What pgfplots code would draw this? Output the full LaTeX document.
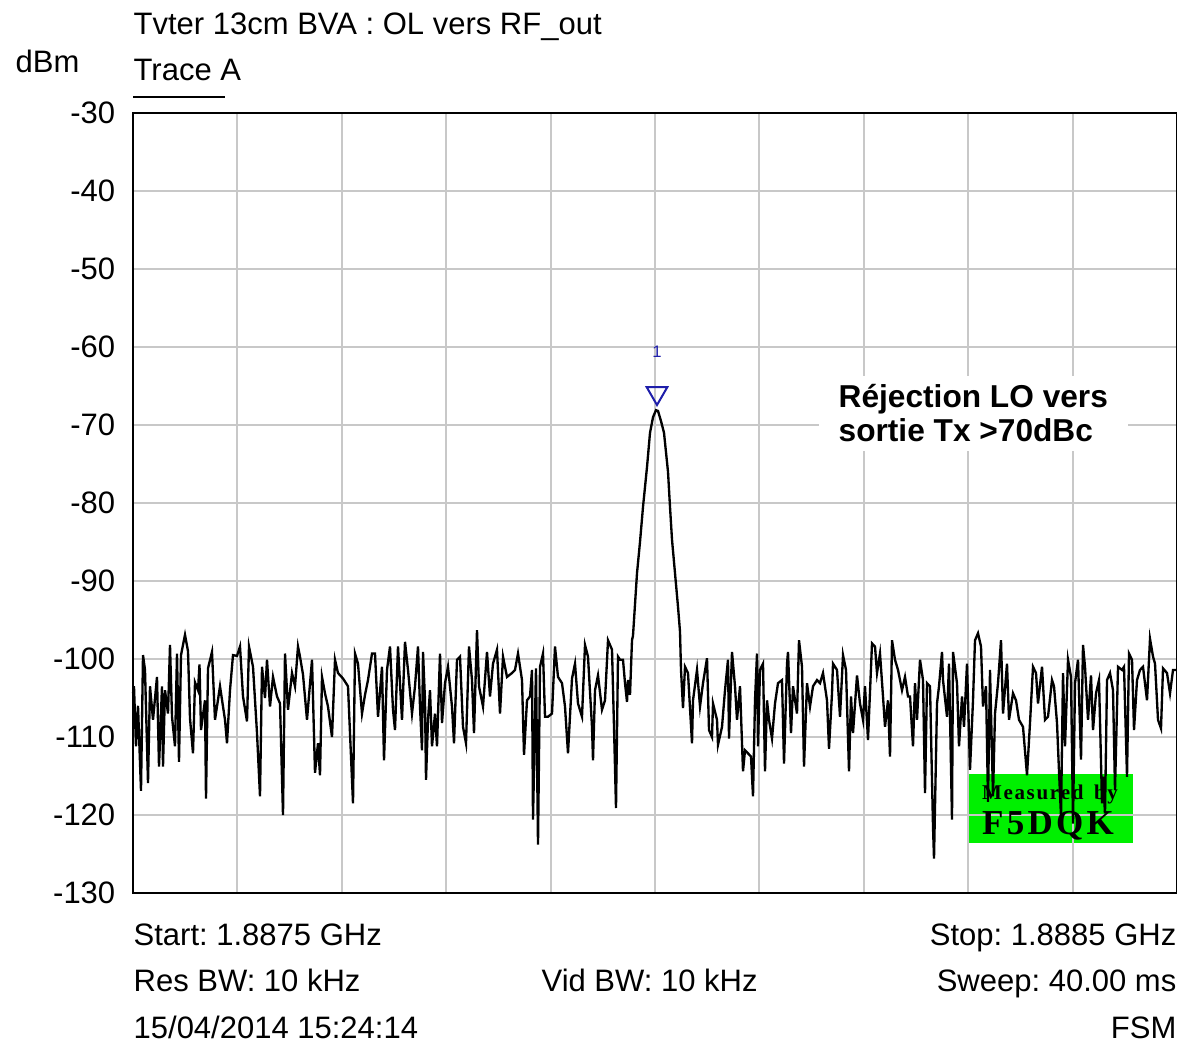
\documentclass[border=0pt]{standalone}
\usepackage{fontspec}
\setmainfont{Liberation Sans}
\newfontfamily\serifb{Liberation Serif}
\usepackage{pgfplots}
\pgfplotsset{compat=1.18}
\frenchspacing
\definecolor{gridc}{RGB}{200,200,200}
\definecolor{mk}{RGB}{30,30,170}
\definecolor{lime}{RGB}{0,240,0}
\newcommand{\f}{\fontsize{9.3}{11}\selectfont}
\begin{document}
\begin{tikzpicture}
\begin{axis}[name=ax, set layers, width=313.2pt, height=234pt, scale only axis,
  xmin=133, xmax=1177, ymin=-130, ymax=-30,
  xtick={133,237.4,341.8,446.2,550.6,655,759.4,863.8,968.2,1072.6,1177}, xticklabels={},
  ytick={-130,-120,...,-30}, major tick length=0pt,
  grid=major, major grid style={gridc, line width=0.6pt},
  axis line style={black, line width=0.6pt},
  tick label style={font=\f}, yticklabel style={xshift=-1.8pt},
  /pgf/number format/assume math mode=true, clip=false]
\begin{pgfonlayer}{axis background}
\fill[lime] (axis cs:968,-114.7) rectangle (axis cs:1133,-123.6);
\end{pgfonlayer}
\node[font=\serifb\bfseries\fontsize{6.3}{7}\selectfont, inner sep=0] at (axis cs:1050,-117.4) {M\kern0.5pt e\kern0.5pt a\kern0.5pt s\kern0.5pt u\kern0.5pt r\kern0.5pt e\kern0.5pt d\ \ b\kern0.5pt y};
\node[font=\serifb\bfseries\fontsize{10.5}{12}\selectfont, inner sep=0] at (axis cs:1048,-121.4) {F\kern1pt 5\kern1pt D\kern1pt Q\kern1pt K};
\addplot[black, line width=0.7pt, mark=none] coordinates {
(133,-104.4) (134,-103.5) (136,-111.2) (138,-106) (141,-116.9) (143,-99.5) (145,-101.4) (148,-115.9)
(150,-103.5) (153,-107.8) (157,-102.3) (159,-113.8) (162,-103.5) (163,-113.8) (165,-104) (168,-107)
(170,-98.2) (172,-107.4) (175,-111.2) (177,-99.3) (179,-113.2) (181,-99.5) (185,-96.9) (188,-99)
(190,-107.6) (193,-112.1) (195,-103) (198,-104) (199.5,-100.7) (201,-109.1) (205,-105.3) (206,-117.9)
(208,-101.2) (212,-99.1) (215,-107.8) (220,-103.5) (225,-107.8) (227,-110.8) (230,-104) (233,-99.5)
(237,-99.6) (240,-98.4) (243,-104.8) (247,-108) (249,-98.4) (253,-101) (257,-109.5) (260,-117.6)
(262,-101) (265,-105) (267,-100.1) (270,-106.1) (273,-102.3) (277,-104.8) (280,-105.7) (283,-120)
(285,-99.3) (288,-106.5) (292,-101.8) (295,-103.5) (298,-98.4) (300,-99.7) (303,-102) (307,-107.8)
(312,-100.1) (315,-114.6) (318,-110.8) (320,-114.9) (322,-102.3) (325,-104.4) (328,-106.1) (332,-110)
(335,-100.1) (338,-101.8) (343,-102.5) (348,-103.5) (351,-112.5) (353,-118.5) (355,-99.3) (358,-100.6)
(362,-107) (365,-104.6) (368,-102.7) (372,-99.3) (375,-99.3) (378,-107.4) (382,-101) (384,-113)
(387,-101.4) (390,-98.4) (393,-106.5) (395,-109.1) (398,-98.4) (402,-107.8) (405,-97.8) (408,-101.4)
(412,-107) (415,-103.5) (418,-98.4) (420,-106.1) (422,-111.7) (423,-99.1) (425,-105.3) (426,-115.5)
(428,-107.8) (430,-104) (432,-111.2) (435,-107) (437,-111.2) (440,-99.3) (442,-108.2) (445,-103.1)
(448,-101) (452,-106.1) (454,-110.8) (457,-100.1) (460,-99.7) (463,-108.7) (466,-110.8) (469,-98.4)
(472,-102.7) (474,-109.5) (477,-96.3) (479,-103.5) (483,-106.1) (487,-99.1) (490,-104.8) (493,-100.6)
(497,-98.8) (500,-107) (503,-99.7) (507,-102.3) (512,-101.8) (515,-101.4) (518,-99.3) (522,-102.7)
(524,-112.3) (527,-105.3) (530,-104.8) (532,-101.4) (533,-120.6) (536,-101.2) (538,-123.8) (540,-101)
(543,-99.3) (545,-107.4) (548,-107.4) (552,-107) (555,-98.4) (558,-102.3) (562,-103.1) (565,-106.1)
(568,-112.1) (572,-102.5) (575,-100.6) (578,-105.7) (582,-107.4) (585,-98.2) (588,-99.7) (592,-108.7)
(593,-113) (595,-104) (598,-102.1) (602,-106.5) (605,-105.3) (608,-97.6) (612,-98.8) (614,-108.7)
(616,-119.1) (618,-99.7) (620,-100.1) (623,-100.1) (625,-103.1) (627,-105.5) (628,-102.7) (630,-104.6)
(632,-97.6) (633,-97) (635,-93) (637,-89) (640,-85) (643,-80.5) (647,-75.4) (650,-71) (653,-69)
(656,-68.1) (658,-68.2) (661,-69.5) (664,-71) (668,-76) (670,-80.5) (672,-84.7) (675,-89) (678,-93.3)
(680,-96.5) (681,-101.4) (683,-106.3) (685,-101) (688,-101.8) (692,-110.8) (693,-105.3) (697,-101.4)
(700,-106.1) (703,-103.1) (707,-99.9) (709,-109.1) (712,-110) (713,-105.7) (717,-107.8) (718,-111)
(722,-108.7) (725,-104) (728,-100.1) (729,-110.2) (732,-99.1) (735,-103.5) (737,-107.8) (740,-103.5)
(743,-114.4) (745,-111.7) (748,-112.1) (751,-112.5) (753,-117.6) (755,-105.3) (757,-99.3) (758,-111.2)
(760,-101.4) (763,-100.6) (765,-114.4) (767,-105.3) (769,-107.8) (772,-110.2) (775,-105.7) (778,-103.1)
(782,-102.7) (784,-113.4) (787,-100.6) (788,-99.1) (791,-109.5) (793,-103.5) (797,-107) (799,-97.6)
(802,-101) (804,-113.8) (807,-103.1) (810,-106.1) (813,-103.5) (817,-102.7) (820,-103.1) (823,-101.8)
(827,-105.3) (829,-111.5) (832,-104.4) (833,-100.6) (837,-101.4) (840,-107.4) (843,-99.5) (846,-101.4)
(849,-114.4) (851,-104.8) (853,-109.5) (857,-102.1) (860,-105.7) (863,-107.8) (865,-103.5) (868,-110.4)
(872,-98) (875,-98.4) (877,-101.8) (880,-99.3) (883,-104.8) (885,-108.7) (888,-105.3) (890,-112.5)
(892,-97.6) (895,-100.1) (898,-101.4) (902,-104) (905,-102.3) (908,-104.8) (910,-104.8) (913,-111.2)
(915,-103.1) (917,-107.8) (920,-100.1) (923,-102.7) (925,-117.2) (927,-103.1) (930,-103.5) (933,-121.5)
(934,-125.6) (937,-105.7) (939,-103.5) (942,-99.1) (943,-102.7) (947,-107.4) (949,-100.6) (952,-120.6)
(953,-99.1) (957,-103.1) (959,-111.2) (962,-104.8) (964,-108.7) (967,-100.6) (970,-114.2) (973,-105.3)
(975,-97.6) (978,-96.7) (981,-98.4) (983,-106.1) (986,-103.5) (988,-118.3) (990,-101.4) (993,-117.6)
(995,-107) (998,-103.1) (1001,-97.6) (1003,-107) (1007,-100.6) (1009,-107.8) (1013,-104.4) (1016,-105.3)
(1019,-107.8) (1023,-108.7) (1027,-114.9) (1030,-108.2) (1033,-101) (1036,-101.8) (1038,-105.7) (1042,-101)
(1045,-107.8) (1048,-107.4) (1052,-102.7) (1054,-103.5) (1057,-108.2) (1059,-114.4) (1061,-120.2) (1063,-101.8)
(1065,-111.2) (1068,-100.1) (1071,-102.3) (1073,-121.1) (1075,-103.1) (1078,-100.1) (1081,-112.9) (1083,-98.2)
(1085,-101) (1088,-107.8) (1091,-102.1) (1093,-109.1) (1096,-104.4) (1099,-102.7) (1102,-118.5) (1103,-115.1)
(1105,-119.8) (1107,-102.7) (1110,-101.8) (1113,-104) (1115,-116.8) (1118,-101) (1122,-101.4) (1124,-101)
(1127,-115.1) (1129,-99.3) (1132,-100.1) (1134,-109.1) (1137,-102.7) (1140,-101.4) (1143,-101) (1147,-105.3)
(1150,-97.4) (1153,-99.7) (1155,-100.6) (1158,-107.8) (1161,-108.9) (1163,-101.2) (1167,-101.8) (1170,-104.4)
(1173,-101.4) (1177,-101.4)
};
\addplot[mk, line width=0.6pt, mark=triangle, mark size=3.6pt, mark options={rotate=180, solid}, only marks] coordinates {(657,-65.9)};
\node[mk, font=\fontsize{5}{6}\selectfont] at (axis cs:657,-60.6) {1};
\node[anchor=west, fill=white, inner xsep=6pt, inner ysep=2.5pt, align=left, font=\bfseries\fontsize{9.5}{10.3}\selectfont] at (axis cs:818,-68.5) {Réjection LO vers\\sortie Tx >70dBc};
\end{axis}
\node[anchor=base west, font=\f, inner sep=0] at ([yshift=23.4pt]ax.north west) {Tvter 13cm BVA : OL vers RF\_out};
\node[anchor=base west, font=\f, inner sep=0] at ([yshift=9.6pt]ax.north west) {Trace A};
\node[anchor=base west, font=\f, inner sep=0] at ([xshift=-35.4pt,yshift=12pt]ax.north west) {dBm};
\draw[black, line width=0.6pt] ([yshift=4.8pt]ax.north west) -- ++(27.6pt,0);
\node[anchor=base west, font=\f, inner sep=0] at ([yshift=-15.6pt]ax.south west) {Start: 1.8875 GHz};
\node[anchor=base west, font=\f, inner sep=0] at ([yshift=-29.4pt]ax.south west) {Res BW: 10 kHz};
\node[anchor=base west, font=\f, inner sep=0] at ([yshift=-43.5pt]ax.south west) {15/04/2014 15:24:14};
\node[anchor=base west, font=\f, inner sep=0] at ([xshift=122.4pt,yshift=-29.4pt]ax.south west) {Vid BW: 10 kHz};
\node[anchor=base east, font=\f, inner sep=0] at ([yshift=-15.6pt]ax.south east) {Stop: 1.8885 GHz};
\node[anchor=base east, font=\f, inner sep=0] at ([yshift=-29.4pt]ax.south east) {Sweep: 40.00 ms};
\node[anchor=base east, font=\f, inner sep=0] at ([yshift=-43.5pt]ax.south east) {FSM};
\pgfresetboundingbox
\path[use as bounding box] ([xshift=-39.9pt,yshift=-45.3pt]ax.south west) rectangle ([yshift=33.9pt]ax.north east);
\end{tikzpicture}
\end{document}
